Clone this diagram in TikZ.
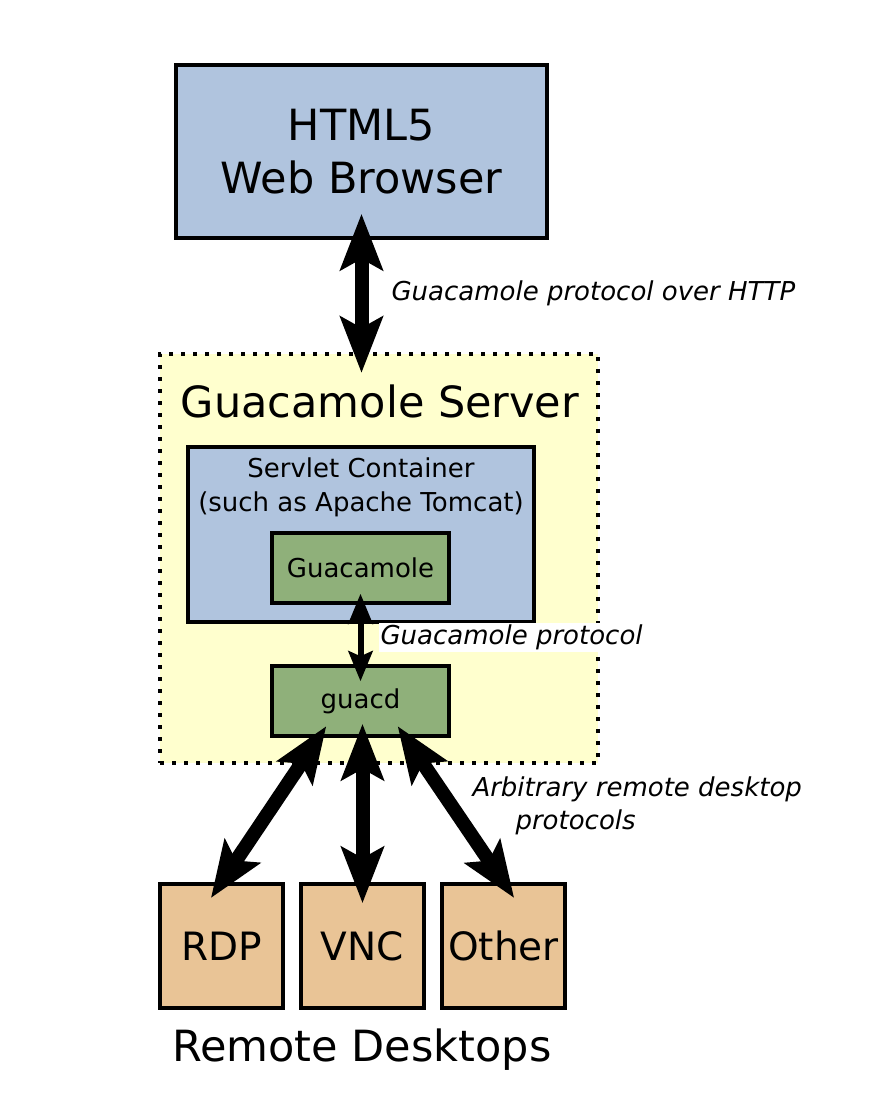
\documentclass[tikz,border=0pt]{standalone}
\usepackage{fontspec}
\setmainfont{DejaVu Sans}
\usepackage{tikz}
\usetikzlibrary{positioning, arrows.meta}
\definecolor{browserblue}{RGB}{176,196,222}
\definecolor{guacgreen}{RGB}{143,176,122}
\definecolor{serveryellow}{RGB}{255,255,206}
\definecolor{desktoppeach}{RGB}{233,196,150}
\tikzset{
  browserbox/.style={
    rectangle,
    draw=black,
    line width=3.5pt,
    align=center,
    fill=browserblue,
    font=\fontsize{43}{53}\selectfont
    },
  serverbox/.style={
    rectangle,
    draw=black,
    line width=4pt,
    dash pattern=on 4pt off 8pt,
    fill=serveryellow
    },
  component/.style={
    rectangle,
    minimum width=177pt,
    minimum height=70pt,
    draw=black,
    line width=3.5pt,
    fill=guacgreen,
    font=\fontsize{26}{33}\selectfont
    },
  desktop/.style={
    rectangle,
    minimum width=123pt,
    minimum height=124pt,
    draw=black,
    line width=3.5pt,
    fill=desktoppeach,
    font=\fontsize{39}{47}\selectfont
    },
  title/.style={font=\fontsize{43}{53}\selectfont},
  proto/.style={inner sep=2pt, font=\itshape\fontsize{26}{33}\selectfont},
  arrow/.style={line width=14pt, >={Stealth[length=56pt,width=42pt,inset=11pt]}, <->},
  thinarrow/.style={line width=6pt, >={Stealth[length=30pt,width=24pt,inset=5pt]}, <->},
}

\begin{document}
\begin{tikzpicture}[x=1pt, y=-1pt, node distance=141pt]
\useasboundingbox (0,0) rectangle (890,1107);
\node (browser) [browserbox, minimum width=371pt, minimum height=173pt] at (361.5,151.5) {HTML5\\Web Browser};
\node (server) [serverbox, minimum width=438pt, minimum height=409pt] at (379,558.5) {};
\node (servertitle) [title] at (380,401) {Guacamole Server};
\node (servlet) [browserbox, minimum width=346pt, minimum height=175pt] at (361,534.5) {};
\node (servlettext) [below=12pt of servlet.north, inner sep=0pt, align=center, font=\fontsize{26}{34}\selectfont] {Servlet Container\\(such as Apache Tomcat)};
\node (guac) [component] at (360.5,568) {Guacamole};
\node (guacd) [component] at (360.5,701) {guacd};
\node (rdp) [desktop] at (221.5,946) {RDP};
\node (vnc) [desktop, right of=rdp] {VNC};
\node (other) [desktop, right of=vnc] {Other};
\node (remote) [title] at (362,1050) {Remote Desktops};

\draw [arrow, shorten <=-26pt, shorten >=-21pt] (browser.south) -- (browser.south |- server.north) node [midway, right=21pt, yshift=3pt, proto] {Guacamole protocol over HTTP};
\draw [thinarrow, shorten <=-11pt, shorten >=-17pt] (guac.south) -- (guacd.north) node [midway, right=15pt, yshift=-3pt, proto, fill=white] {Guacamole protocol};
\draw [arrow, shorten <=-14pt, shorten >=-19pt] ([xshift=-42pt]guacd.south) -- (rdp.north);
\draw [arrow, shorten <=-14pt, shorten >=-21pt] (vnc.north |- guacd.south) -- (vnc.north);
\draw [arrow, shorten <=-14pt, shorten >=-19pt] ([xshift=45pt]guacd.south) -- (other.north) node [midway, right=9pt, yshift=4pt, proto, align=left] {Arbitrary remote desktop\\\hspace*{43pt}protocols};
\end{tikzpicture}
\end{document}
